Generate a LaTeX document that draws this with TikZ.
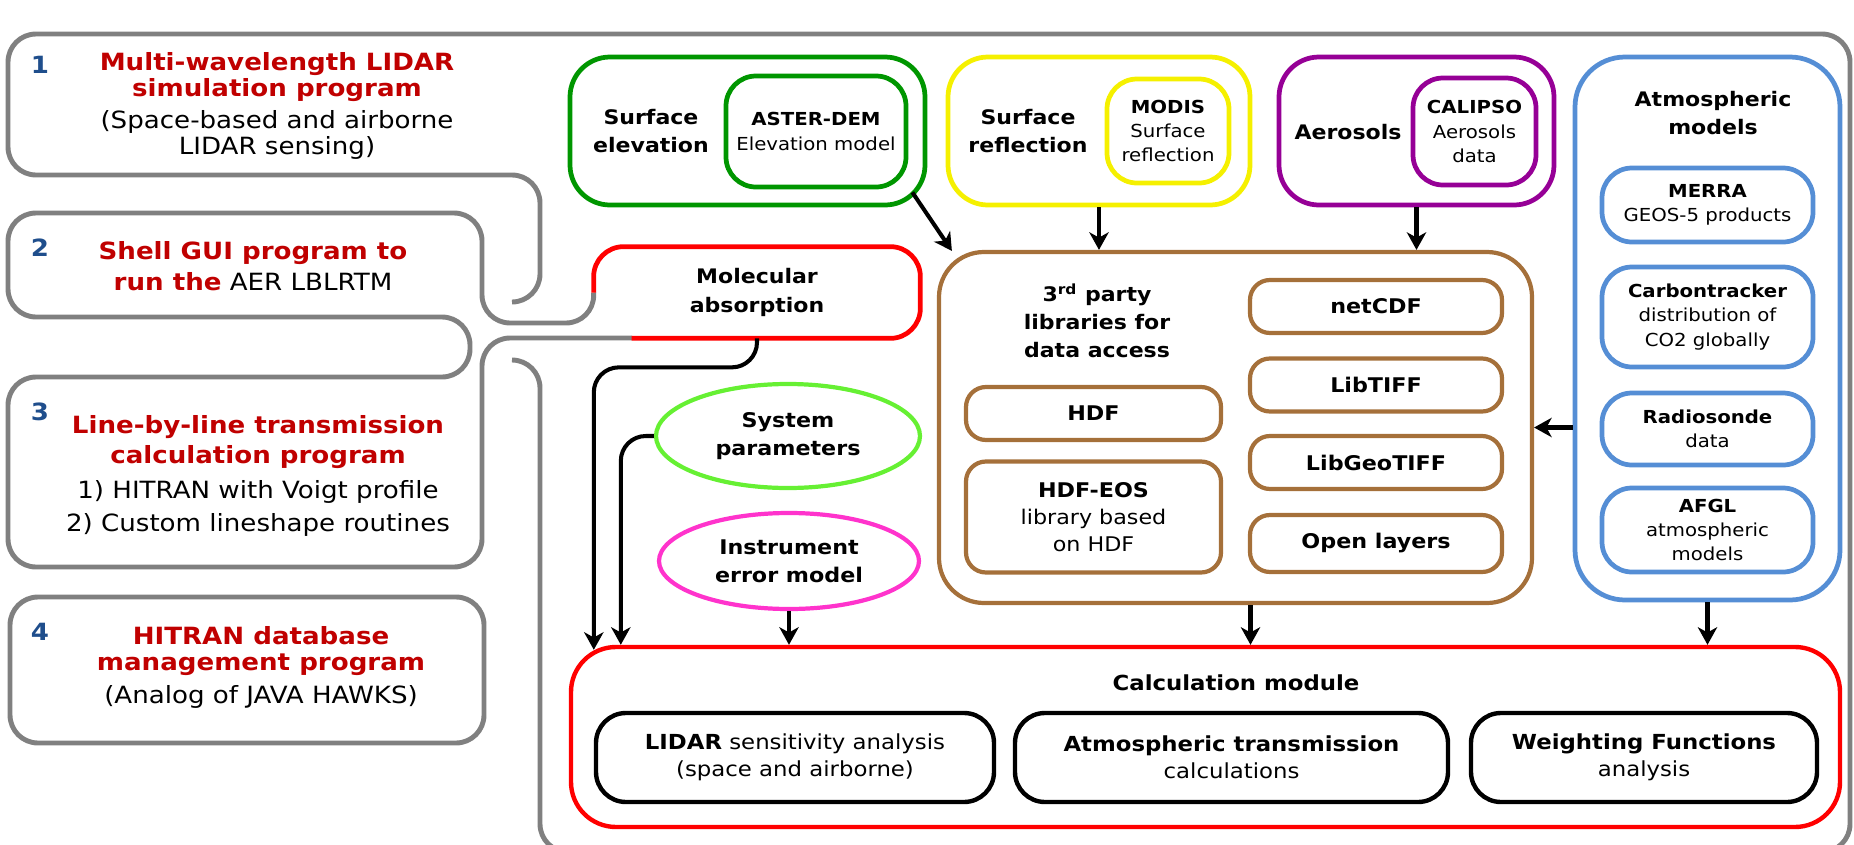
\documentclass[tikz,border=0pt]{standalone}
\usepackage{fontspec}
\setmainfont{DejaVu Sans}[FakeStretch=1.1]
\usepackage{tikz}
\usetikzlibrary{arrows.meta,positioning,calc,shapes.geometric}
\definecolor{framegray}{RGB}{128,128,128}
\definecolor{numblue}{RGB}{31,78,140}
\definecolor{titlered}{RGB}{192,0,0}
\definecolor{elevgreen}{RGB}{0,150,0}
\definecolor{reflyellow}{RGB}{245,240,0}
\definecolor{aeropurple}{RGB}{150,0,150}
\definecolor{atmblue}{RGB}{85,142,213}
\definecolor{libbrown}{RGB}{165,112,58}
\definecolor{sysgreen}{RGB}{102,240,51}
\definecolor{errpink}{RGB}{255,51,204}
\newcommand{\ttl}[1]{{\color{titlered}\bfseries #1}}
\tikzset{
  sz/.style 2 args={minimum width=#1*0.02cm, minimum height=#2*0.02cm},
  frameline/.style={draw=framegray, line width=2.8pt, rounded corners=0.56cm},
  num/.style={font=\fontsize{13.5}{15}\selectfont\bfseries, text=numblue},
  lefttxt/.style={font=\fontsize{13.5}{14.8}\selectfont, align=center},
  box/.style={draw, line width=2.7pt, align=center, inner sep=0pt},
  outbox/.style={box, rounded corners=0.8cm},
  inbox/.style={box, rounded corners=0.6cm, font=\fontsize{10.2}{13.7}\selectfont},
  lbl/.style={font=\fontsize{11.4}{16}\selectfont\bfseries, align=center},
  libbox/.style={box, draw=libbrown, line width=2.4pt, rounded corners=0.4cm, font=\fontsize{11.5}{15.4}\selectfont\bfseries},
  atmbox/.style={inbox, draw=atmblue, sz={211}{#1}},
  oval/.style={ellipse, draw, line width=2.4pt, inner sep=0pt, align=center, font=\fontsize{11.5}{16}\selectfont\bfseries},
  calcbox/.style={box, line width=2.5pt, rounded corners=0.6cm, font=\fontsize{11.8}{15.4}\selectfont, sz={#1}{89}},
  arr/.style={-{Stealth[length=10pt,width=11pt,inset=3pt]}, line width=2.3pt}
}
\begin{document}
\begin{tikzpicture}[x=0.02cm, y=-0.02cm]
\useasboundingbox (0,0) rectangle (1854,845);

% program list on the left
\node[box, draw=framegray, line width=2.8pt, rounded corners=0.56cm, sz={474}{146}] (b4) at (247,670) {};
\node[num] (n1) at (40,65) {1};
\node[lefttxt] (t1) at (277,106) {\ttl{Multi-wavelength LIDAR}\\\ttl{simulation program}\\[3pt](Space-based and airborne\\LIDAR sensing)};
\node[num] (n2) at (40,248) {2};
\node[lefttxt] (t2) at (253,266) {\ttl{Shell GUI program to}\\[3pt]\ttl{run the} AER LBLRTM};
\node[num] (n3) at (40,412) {3};
\node[lefttxt, font=\fontsize{13.5}{17}\selectfont] (t3) at (258,476) {\ttl{Line-by-line transmission}\\\ttl{calculation program}\\[3pt]1) HITRAN with Voigt profile\\[2pt]2) Custom lineshape routines};
\node[num] (n4) at (40,632) {4};
\node[lefttxt] (t4) at (261,667) {\ttl{HITRAN database}\\\ttl{management program}\\[4pt](Analog of JAVA HAWKS)};

% data sources
\node[outbox, draw=elevgreen, sz={355}{148}] (gout) at (747.5,131) {};
\node[inbox, draw=elevgreen, sz={180}{111}] (gin) at (816,131.5) {\textbf{ASTER-DEM}\\Elevation model};
\node[lbl] (glbl) at (651,131) {Surface\\elevation};
\node[outbox, draw=reflyellow, sz={302}{148}] (yout) at (1099,131) {};
\node[inbox, draw=reflyellow, sz={122}{104}] (yin) at (1168,131) {\textbf{MODIS}\\Surface\\reflection};
\node[lbl] (ylbl) at (1028,131) {Surface\\reflection};
\node[outbox, draw=aeropurple, sz={275}{148}] (pout) at (1416.5,131) {};
\node[inbox, draw=aeropurple, sz={123}{107}] (pin) at (1474.5,131.5) {\textbf{CALIPSO}\\Aerosols\\data};
\node[lbl] (plbl) at (1348,132) {Aerosols};

\node[outbox, draw=atmblue, rounded corners=1cm, sz={265}{543}] (bout) at (1707.5,328.5) {};
\node[lbl] (blbl) at (1713,113) {Atmospheric\\models};
\node[atmbox=74] (merra) at (1707.5,205) {\textbf{MERRA}\\GEOS-5 products};
\node[atmbox=100] (carb) at (1707.5,317) {\textbf{Carbontracker}\\distribution of\\CO2 globally};
\node[atmbox=72] (radio) at (1707.5,429) {\textbf{Radiosonde}\\data};
\node[atmbox=84] (afgl) at (1707.5,530) {\textbf{AFGL}\\atmospheric\\models};

% libraries
\node[box, draw=libbrown, line width=2.4pt, rounded corners=0.9cm, sz={593}{351}] (brout) at (1235.5,427.5) {};
\node[lbl] (brlbl) at (1097,321) {3\textsuperscript{rd} party\\libraries for\\data access};
\node[libbox, sz={255}{53}] (hdf) at (1093.5,413.5) {HDF};
\node[libbox, sz={255}{111}] (hdfeos) at (1093.5,517) {HDF-EOS\\{\mdseries library based}\\{\mdseries on HDF}};
\node[libbox, sz={252}{53}] (netcdf) at (1376,306.5) {netCDF};
\node[libbox, sz={252}{53}] (libtiff) at (1376,385) {LibTIFF};
\node[libbox, sz={252}{53}] (geotiff) at (1376,462.5) {LibGeoTIFF};
\node[libbox, sz={252}{57}] (openl) at (1376,543.5) {Open layers};

% model inputs
\node[lbl, sz={326}{91}, inner sep=0pt] (mol) at (757,292.5) {Molecular\\absorption};
\node[oval, draw=sysgreen, sz={264}{104}] (sys) at (788,436) {System\\parameters};
\node[oval, draw=errpink, sz={260}{96}] (instr) at (789,561) {Instrument\\error model};

% calculation module
\node[box, draw=red, line width=2.5pt, rounded corners=0.9cm, sz={1269}{180}] (calc) at (1205.5,737) {};
\node[lbl, font=\fontsize{11.8}{15}\selectfont\bfseries] (calctitle) at (1236,683) {Calculation module};
\node[calcbox=398] (lidar) at (795,757.5) {\textbf{LIDAR} sensitivity analysis\\(space and airborne)};
\node[calcbox=433] (atmtr) at (1231.5,757.5) {\textbf{Atmospheric transmission}\\calculations};
\node[calcbox=346] (wf) at (1644,757.5) {\textbf{Weighting Functions}\\analysis};

% gray frames
\draw[frameline] (632,338) -- (482,338) -- (482,567) -- (8,567) -- (8,377) -- (470,377) -- (470,317) -- (8,317) -- (8,213) -- (482,213) -- (482,323) -- (594,323) -- (mol.west);
\draw[frameline] (512,302) -- (540,302) -- (540,175) -- (8,175) -- (8,34) -- (1850,34) -- (1850,852) -- (540,852) -- (540,360) -- (512,360);
\draw[red, line width=2.7pt, rounded corners=0.6cm] (mol.west) -- (mol.north west) -- (mol.north east) -- (mol.south east) -- ($(mol.south west)+(38,0)$);

% arrows
\draw[arr] ($(gout.south east)+(-15,-15)$) -- ($(brout.north west)+(15,1)$);
\draw[arr] (yout.south) -- (yout.south |- brout.north);
\draw[arr] (pout.south) -- (pout.south |- brout.north);
\draw[arr] (bout.west |- brout.east) -- (brout.east);
\coordinate (brdn) at ($(brout.south)+(15,0)$);
\draw[arr] (brdn) -- (brdn |- calc.north);
\draw[arr] (bout.south) -- (bout.south |- calc.north);
\draw[arr] (instr.south) -- (instr.south |- calc.north);
\coordinate (sysin) at ($(calc.north west)+(52,0)$);
\draw[arr, rounded corners=0.5cm] (sys.west) -| (sysin);
\coordinate (molin) at ($(calc.north west)+(25,5)$);
\draw[arr, rounded corners=0.5cm] (mol.south) -- ++(0,29) -| (molin);
\end{tikzpicture}
\end{document}
